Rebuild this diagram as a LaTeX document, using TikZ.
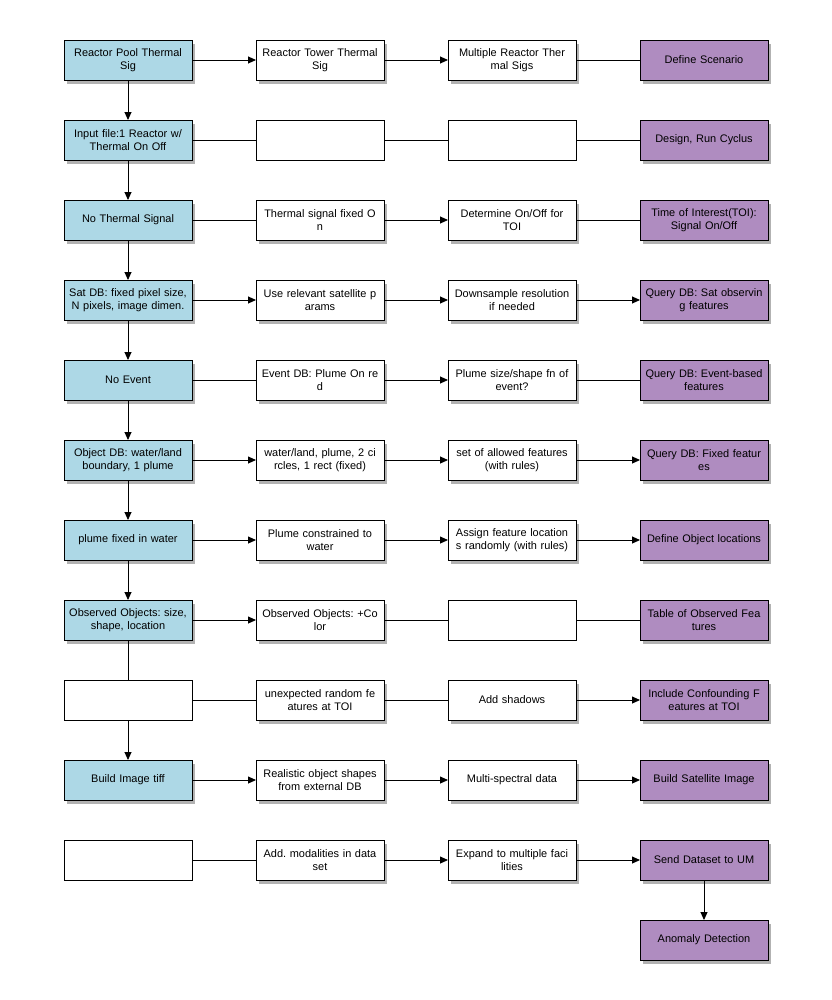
\documentclass[tikz,border=0pt]{standalone}
\usepackage{fontspec}
\setmainfont{Liberation Sans}
\usepackage{tikz}
\usetikzlibrary{arrows.meta,positioning,shadows}
\frenchspacing
\definecolor{srcblue}{RGB}{173,216,230}
\definecolor{goalpurple}{RGB}{175,140,192}
\tikzset{
  blk/.style   = {draw, rectangle, line width=0.9bp, align=center,
                  text width=124bp, inner sep=2bp, outer sep=0pt,
                  minimum height=40bp, font=\fontsize{11}{12.5}\selectfont},
  shd/.style   = {drop shadow={shadow xshift=3bp, shadow yshift=-3.5bp,
                  opacity=0.3, fill=black}},
  src/.style   = {blk, shd, fill=srcblue},
  mid/.style   = {blk, shd, fill=white},
  goal/.style  = {blk, shd, fill=goalpurple},
  void/.style  = {blk, fill=white},
  wire/.style  = {-{Triangle[length=8bp,width=7bp]}, line width=0.9bp},
  plain/.style = {line width=0.9bp}
}

\begin{document}
\begin{tikzpicture}[x=1bp, y=1bp, node distance=40bp and 64bp]
\useasboundingbox (0,0) rectangle (832,-1000);

% --- left column: inputs ---
\node[src] (a1) at (128,-60) {Reactor Pool Thermal\\Sig};
\node[src, below=of a1] (a2) {Input file:1 Reactor w/\\Thermal On Off};
\node[src, below=of a2] (a3) {No Thermal Signal};
\node[src, below=of a3] (a4) {Sat DB: fixed pixel size,\\N pixels, image dimen.};
\node[src, below=of a4] (a5) {No Event};
\node[src, below=of a5] (a6) {Object DB: water/land\\boundary, 1 plume};
\node[src, below=of a6] (a7) {plume fixed in water};
\node[src, below=of a7] (a8) {Observed Objects: size,\\shape, location};
\node[void, below=of a8] (a9) {};
\node[src, below=of a9] (a10) {Build Image tiff};
\node[void, below=of a10] (a11) {};

% --- second column ---
\node[mid, right=of a1] (b1) {Reactor Tower Thermal\\Sig};
\node[void, right=of a2] (b2) {};
\node[mid, right=of a3] (b3) {Thermal signal fixed O\\n};
\node[mid, right=of a4] (b4) {Use relevant satellite p\\arams};
\node[mid, right=of a5] (b5) {Event DB: Plume On re\\d};
\node[mid, right=of a6] (b6) {water/land, plume, 2 ci\\rcles, 1 rect (fixed)};
\node[mid, right=of a7] (b7) {Plume constrained to\\water};
\node[mid, right=of a8] (b8) {Observed Objects: +Co\\lor};
\node[mid, right=of a9] (b9) {unexpected random fe\\atures at TOI};
\node[mid, right=of a10] (b10) {Realistic object shapes\\from external DB};
\node[mid, right=of a11] (b11) {Add. modalities in data\\set};

% --- third column ---
\node[mid, right=of b1] (c1) {Multiple Reactor Ther\\mal Sigs};
\node[void, right=of b2] (c2) {};
\node[mid, right=of b3] (c3) {Determine On/Off for\\TOI};
\node[mid, right=of b4] (c4) {Downsample resolution\\if needed};
\node[mid, right=of b5] (c5) {Plume size/shape fn of\\event?};
\node[mid, right=of b6] (c6) {set of allowed features\\(with rules)};
\node[mid, right=of b7] (c7) {Assign feature location\\s randomly (with rules)};
\node[void, right=of b8] (c8) {};
\node[mid, right=of b9] (c9) {Add shadows};
\node[mid, right=of b10] (c10) {Multi-spectral data};
\node[mid, right=of b11] (c11) {Expand to multiple faci\\lities};

% --- right column: goals ---
\node[goal, right=of c1] (d1) {Define Scenario};
\node[goal, right=of c2] (d2) {Design, Run Cyclus};
\node[goal, right=of c3] (d3) {Time of Interest(TOI):\\Signal On/Off};
\node[goal, right=of c4] (d4) {Query DB: Sat observin\\g features};
\node[goal, right=of c5] (d5) {Query DB: Event-based\\features};
\node[goal, right=of c6] (d6) {Query DB: Fixed featur\\es};
\node[goal, right=of c7] (d7) {Define Object locations};
\node[goal, right=of c8] (d8) {Table of Observed Fea\\tures};
\node[goal, right=of c9] (d9) {Include Confounding F\\eatures at TOI};
\node[goal, right=of c10] (d10) {Build Satellite Image};
\node[goal, right=of c11] (d11) {Send Dataset to UM};
\node[goal, below=of d11] (d12) {Anomaly Detection};

% left column chain
\foreach \i/\j in {1/2, 2/3, 3/4, 4/5, 5/6, 6/7, 7/8, 9/10} {
  \draw[wire] (a\i) -- (a\j);
}
\draw[plain] (a8) -- (a9);
\draw[wire] (d11) -- (d12);

% row links
\foreach \u/\v/\s in {a1/b1/wire, b1/c1/wire, c1/d1/plain,
                      a2/b2/plain, b2/c2/plain, c2/d2/plain,
                      a3/b3/plain, b3/c3/wire, c3/d3/plain,
                      a4/b4/wire, b4/c4/wire, c4/d4/wire,
                      a5/b5/plain, b5/c5/wire, c5/d5/plain,
                      a6/b6/wire, b6/c6/wire, c6/d6/wire,
                      a7/b7/wire, b7/c7/wire, c7/d7/wire,
                      a8/b8/wire, b8/c8/plain, c8/d8/plain,
                      a9/b9/plain, b9/c9/plain, c9/d9/wire,
                      a10/b10/wire, b10/c10/wire, c10/d10/wire,
                      a11/b11/plain, b11/c11/wire, c11/d11/wire} {
  \draw[\s] (\u) -- (\v);
}

\end{tikzpicture}
\end{document}
